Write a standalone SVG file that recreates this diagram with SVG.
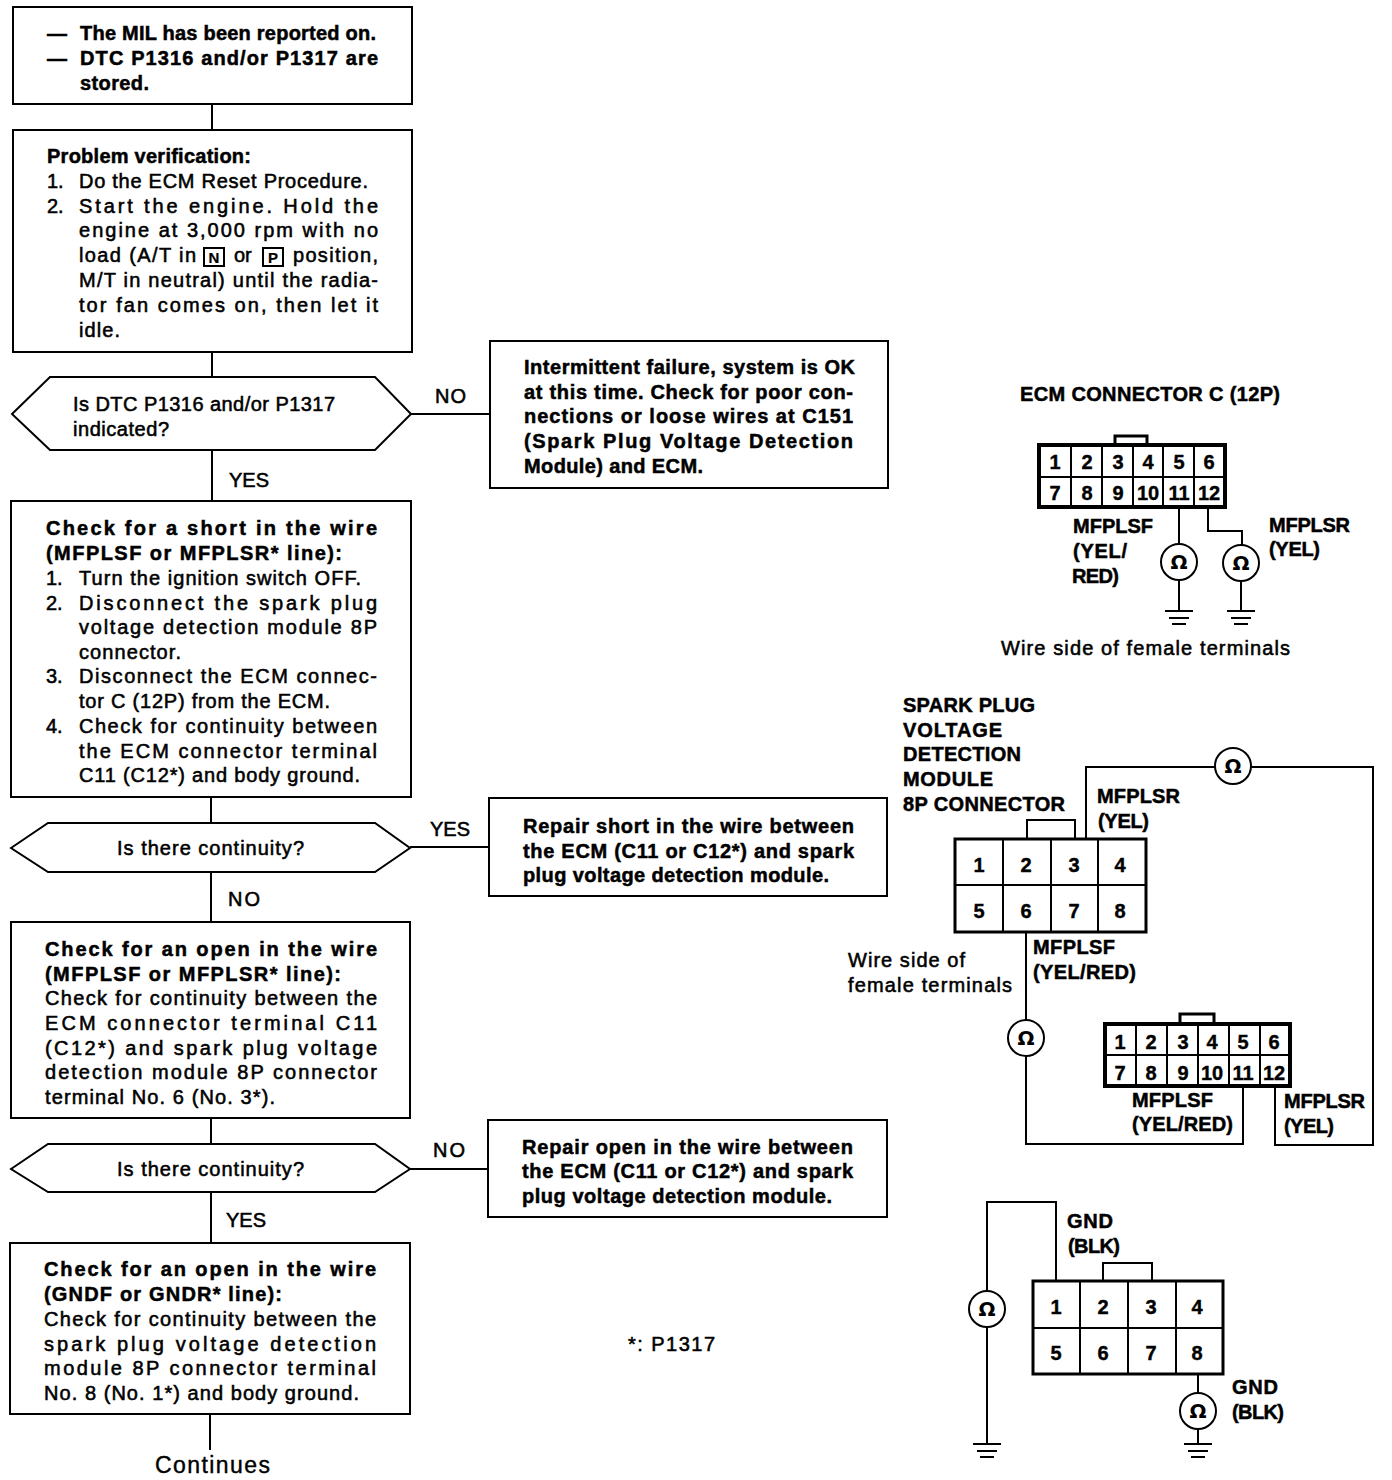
<svg xmlns="http://www.w3.org/2000/svg" xmlns:xlink="http://www.w3.org/1999/xlink" width="1392" height="1480" viewBox="0 0 1392 1480">
<style>
text{font-family:"Liberation Sans",Arial,sans-serif;font-size:20px;fill:#000;stroke:#000;stroke-width:.55px}
.b{font-weight:bold;stroke-width:.5px}
.n{font-weight:bold;text-anchor:middle;stroke-width:.4px}
.o{font-family:"DejaVu Sans",sans-serif;font-weight:bold;font-size:20px;text-anchor:middle;stroke-width:0}
.k{font-weight:bold;font-size:15px;text-anchor:middle;stroke-width:.2px}
.box{fill:#fff;stroke:#000;stroke-width:2}
.thin{fill:none;stroke:#000;stroke-width:2}
.w{fill:none;stroke:#000;stroke-width:2}
.c{fill:none;stroke:#000;stroke-width:3}
.m{fill:#fff;stroke:#000;stroke-width:2}
.big{font-size:23px;stroke-width:.4px}
</style>
<defs>
<g id="gnd"><path d="M-14 0H14M-10 7H10M-7 13H7" class="w"/></g>
</defs>
<rect width="1392" height="1480" fill="#fff"/>
<g id="connectors" class="w">
<path d="M212 104V130M212 352V377M212 450V501M411 414H490M211 797V823M211 872V922M410 847H489M211 1118V1144M211 1192V1243M410 1169H488M210 1414V1450"/>
</g>
<g id="start"><rect class="box" x="13" y="7" width="399" height="97"/>
<text x="47" y="40" class="b" textLength="21">—</text><text x="80" y="40" class="b" textLength="296" lengthAdjust="spacing">The MIL has been reported on.</text>
<text x="47" y="65" class="b" textLength="21">—</text><text x="80" y="65" class="b" textLength="298">DTC P1316 and/or P1317 are</text>
<text x="80" y="90" class="b" textLength="69">stored.</text></g>
<g id="verify"><rect class="box" x="13" y="130" width="399" height="222"/>
<text x="47" y="163" class="b" textLength="204">Problem verification:</text>
<text x="47" y="188">1.</text><text x="79" y="188" textLength="289">Do the ECM Reset Procedure.</text>
<text x="47" y="213">2.</text><text x="79" y="213" textLength="299">Start the engine. Hold the</text>
<text x="79" y="237" textLength="299">engine at 3,000 rpm with no</text>
<text x="79" y="262" textLength="117">load (A/T in</text>
<rect x="204" y="248" width="20" height="18" class="thin"/><text x="214" y="263" class="k">N</text>
<text x="234" y="262">or</text>
<rect x="263" y="248" width="20" height="18" class="thin"/><text x="273" y="263" class="k">P</text>
<text x="293" y="262" textLength="85">position,</text>
<text x="79" y="287" textLength="299">M/T in neutral) until the radia-</text>
<text x="79" y="312" textLength="299">tor fan comes on, then let it</text>
<text x="79" y="337" textLength="41">idle.</text></g>
<g id="decision1"><polygon class="box" points="12,414 50,377 375,377 411,414 375,450 50,450"/>
<text x="73" y="411" textLength="262">Is DTC P1316 and/or P1317</text><text x="73" y="436" textLength="96">indicated?</text></g>
<g id="no1"><text x="435" y="403" textLength="31">NO</text></g>
<g id="ok"><rect class="box" x="490" y="341" width="398" height="147"/>
<text x="524" y="374" class="b" textLength="331">Intermittent failure, system is OK</text>
<text x="524" y="399" class="b" textLength="329">at this time. Check for poor con-</text>
<text x="524" y="423" class="b" textLength="329">nections or loose wires at C151</text>
<text x="524" y="448" class="b" textLength="329">(Spark Plug Voltage Detection</text>
<text x="524" y="473" class="b" textLength="179">Module) and ECM.</text></g>
<g id="yes1"><text x="229" y="487" textLength="40">YES</text></g>
<g id="short"><rect class="box" x="11" y="501" width="400" height="296"/>
<text x="46" y="535" class="b" textLength="331">Check for a short in the wire</text>
<text x="46" y="560" class="b" textLength="296">(MFPLSF or MFPLSR* line):</text>
<text x="46" y="585">1.</text><text x="79" y="585" textLength="282">Turn the ignition switch OFF.</text>
<text x="46" y="610">2.</text><text x="79" y="610" textLength="298">Disconnect the spark plug</text>
<text x="79" y="634" textLength="298">voltage detection module 8P</text>
<text x="79" y="659" textLength="102">connector.</text>
<text x="46" y="683">3.</text><text x="79" y="683" textLength="298">Disconnect the ECM connec-</text>
<text x="79" y="708" textLength="251">tor C (12P) from the ECM.</text>
<text x="46" y="733">4.</text><text x="79" y="733" textLength="298">Check for continuity between</text>
<text x="79" y="758" textLength="298">the ECM connector terminal</text>
<text x="79" y="782" textLength="281">C11 (C12*) and body ground.</text></g>
<g id="decision2"><polygon class="box" points="11,848 48,823 375,823 410,848 375,872 48,872"/>
<text x="117" y="855" textLength="187">Is there continuity?</text></g>
<g id="yes2"><text x="430" y="836" textLength="40">YES</text></g>
<g id="repair1"><rect class="box" x="489" y="798" width="398" height="98"/>
<text x="523" y="833" class="b" textLength="331">Repair short in the wire between</text>
<text x="523" y="858" class="b" textLength="331">the ECM (C11 or C12*) and spark</text>
<text x="523" y="882" class="b" textLength="306">plug voltage detection module.</text></g>
<g id="no2"><text x="228" y="906" textLength="32">NO</text></g>
<g id="open1"><rect class="box" x="11" y="922" width="399" height="196"/>
<text x="45" y="956" class="b" textLength="332">Check for an open in the wire</text>
<text x="45" y="981" class="b" textLength="296">(MFPLSF or MFPLSR* line):</text>
<text x="45" y="1005" textLength="332">Check for continuity between the</text>
<text x="45" y="1030" textLength="332">ECM connector terminal C11</text>
<text x="45" y="1055" textLength="332">(C12*) and spark plug voltage</text>
<text x="45" y="1079" textLength="332">detection module 8P connector</text>
<text x="45" y="1104" textLength="230">terminal No. 6 (No. 3*).</text></g>
<g id="decision3"><polygon class="box" points="11,1169 48,1144 375,1144 410,1169 375,1192 48,1192"/>
<text x="117" y="1176" textLength="187">Is there continuity?</text></g>
<g id="no3"><text x="433" y="1157" textLength="32">NO</text></g>
<g id="repair2"><rect class="box" x="488" y="1120" width="399" height="97"/>
<text x="522" y="1154" class="b" textLength="331">Repair open in the wire between</text>
<text x="522" y="1178" class="b" textLength="331">the ECM (C11 or C12*) and spark</text>
<text x="522" y="1203" class="b" textLength="310">plug voltage detection module.</text></g>
<g id="yes3"><text x="226" y="1227" textLength="40">YES</text></g>
<g id="open2"><rect class="box" x="10" y="1243" width="400" height="171"/>
<text x="44" y="1276" class="b" textLength="332">Check for an open in the wire</text>
<text x="44" y="1301" class="b" textLength="238">(GNDF or GNDR* line):</text>
<text x="44" y="1326" textLength="332">Check for continuity between the</text>
<text x="44" y="1351" textLength="332">spark plug voltage detection</text>
<text x="44" y="1375" textLength="332">module 8P connector terminal</text>
<text x="44" y="1400" textLength="315">No. 8 (No. 1*) and body ground.</text></g>
<g id="continues"><text x="155" y="1473" class="big" textLength="115">Continues</text></g>
<g id="note"><text x="628" y="1351" textLength="87">*: P1317</text></g>

<g id="ecm-connector-1">
<path class="c" d="M1115 445V436H1147V445"/>
<rect x="1039" y="445" width="186" height="62" fill="#fff" stroke="#000" stroke-width="4"/>
<path class="w" d="M1039 477H1225M1071 445V507M1102 445V507M1133 445V507M1163 445V507M1194 445V507"/>
<path class="w" d="M1179 507V544M1208 507V531H1242V545M1179 581V611M1241 582V611"/>
<circle cx="1179" cy="562" r="18" class="m"/><circle cx="1241" cy="563" r="18" class="m"/>
<text x="1179" y="569" class="o">Ω</text><text x="1241" y="570" class="o">Ω</text>
<use xlink:href="#gnd" href="#gnd" x="1179" y="611"/><use xlink:href="#gnd" href="#gnd" x="1241" y="611"/>
<text x="1055" y="469" class="n">1</text><text x="1087" y="469" class="n">2</text><text x="1118" y="469" class="n">3</text><text x="1148" y="469" class="n">4</text><text x="1179" y="469" class="n">5</text><text x="1209" y="469" class="n">6</text>
<text x="1055" y="500" class="n">7</text><text x="1087" y="500" class="n">8</text><text x="1118" y="500" class="n">9</text><text x="1148" y="500" class="n">10</text><text x="1179" y="500" class="n">11</text><text x="1209" y="500" class="n">12</text>
<text x="1020" y="401" class="b" textLength="260">ECM CONNECTOR C (12P)</text>
<text x="1073" y="533" class="b" textLength="80">MFPLSF</text><text x="1073" y="558" class="b" textLength="54">(YEL/</text><text x="1072" y="583" class="b" textLength="47">RED)</text>
<text x="1269" y="532" class="b" textLength="81">MFPLSR</text><text x="1269" y="556" class="b" textLength="51">(YEL)</text>
<text x="1001" y="655" textLength="289">Wire side of female terminals</text>
</g>

<g id="module-connector-1">
<path class="w" d="M1027 839V820H1075V839"/>
<path class="w" d="M1086 839V767H1215M1251 767H1373V1145H1275V1086M1026 932V1020M1026 1056V1144H1243V1086"/>
<rect x="955" y="839" width="191" height="93" fill="#fff" stroke="#000" stroke-width="3"/>
<path class="w" d="M955 885H1146M1003 839V932M1051 839V932M1098 839V932"/>
<circle cx="1233" cy="766" r="18" class="m"/><circle cx="1026" cy="1038" r="18" class="m"/>
<text x="1233" y="773" class="o">Ω</text><text x="1026" y="1045" class="o">Ω</text>
<text x="979" y="872" class="n">1</text><text x="1026" y="872" class="n">2</text><text x="1074" y="872" class="n">3</text><text x="1120" y="872" class="n">4</text>
<text x="979" y="918" class="n">5</text><text x="1026" y="918" class="n">6</text><text x="1074" y="918" class="n">7</text><text x="1120" y="918" class="n">8</text>
<text x="903" y="712" class="b" textLength="132">SPARK PLUG</text><text x="903" y="737" class="b" textLength="99">VOLTAGE</text><text x="903" y="761" class="b" textLength="118">DETECTION</text><text x="903" y="786" class="b" textLength="90">MODULE</text><text x="903" y="811" class="b" textLength="162">8P CONNECTOR</text>
<text x="1097" y="803" class="b" textLength="83">MFPLSR</text><text x="1098" y="828" class="b" textLength="51">(YEL)</text>
<text x="1033" y="954" class="b" textLength="82">MFPLSF</text><text x="1033" y="979" class="b" textLength="103">(YEL/RED)</text>
<text x="848" y="967" textLength="117">Wire side of</text><text x="848" y="992" textLength="164">female terminals</text>
</g>

<g id="ecm-connector-2">
<path class="c" d="M1180 1024V1014H1214V1024"/>
<rect x="1105" y="1024" width="185" height="62" fill="#fff" stroke="#000" stroke-width="4"/>
<path class="w" d="M1105 1055H1290M1136 1024V1086M1167 1024V1086M1198 1024V1086M1229 1024V1086M1260 1024V1086"/>
<text x="1120" y="1049" class="n">1</text><text x="1151" y="1049" class="n">2</text><text x="1183" y="1049" class="n">3</text><text x="1212" y="1049" class="n">4</text><text x="1243" y="1049" class="n">5</text><text x="1274" y="1049" class="n">6</text>
<text x="1120" y="1080" class="n">7</text><text x="1151" y="1080" class="n">8</text><text x="1183" y="1080" class="n">9</text><text x="1212" y="1080" class="n">10</text><text x="1243" y="1080" class="n">11</text><text x="1274" y="1080" class="n">12</text>
<text x="1132" y="1107" class="b" textLength="81">MFPLSF</text><text x="1132" y="1131" class="b" textLength="101">(YEL/RED)</text>
<text x="1284" y="1108" class="b" textLength="81">MFPLSR</text><text x="1284" y="1133" class="b" textLength="50">(YEL)</text>
</g>

<g id="module-connector-2">
<path class="w" d="M1103 1281V1263H1152V1281"/>
<path class="w" d="M1056 1281V1202H987V1291M987 1327V1444M1198 1374V1393M1198 1429V1444"/>
<rect x="1033" y="1281" width="190" height="93" fill="#fff" stroke="#000" stroke-width="3"/>
<path class="w" d="M1033 1328H1223M1080 1281V1374M1128 1281V1374M1176 1281V1374"/>
<circle cx="987" cy="1309" r="18" class="m"/><circle cx="1198" cy="1411" r="18" class="m"/>
<text x="987" y="1316" class="o">Ω</text><text x="1198" y="1418" class="o">Ω</text>
<use xlink:href="#gnd" href="#gnd" x="987" y="1444"/><use xlink:href="#gnd" href="#gnd" x="1198" y="1444"/>
<text x="1056" y="1314" class="n">1</text><text x="1103" y="1314" class="n">2</text><text x="1151" y="1314" class="n">3</text><text x="1197" y="1314" class="n">4</text>
<text x="1056" y="1360" class="n">5</text><text x="1103" y="1360" class="n">6</text><text x="1151" y="1360" class="n">7</text><text x="1197" y="1360" class="n">8</text>
<text x="1067" y="1228" class="b" textLength="46">GND</text><text x="1068" y="1253" class="b" textLength="52">(BLK)</text>
<text x="1232" y="1394" class="b" textLength="46">GND</text><text x="1232" y="1419" class="b" textLength="52">(BLK)</text>
</g>
</svg>
